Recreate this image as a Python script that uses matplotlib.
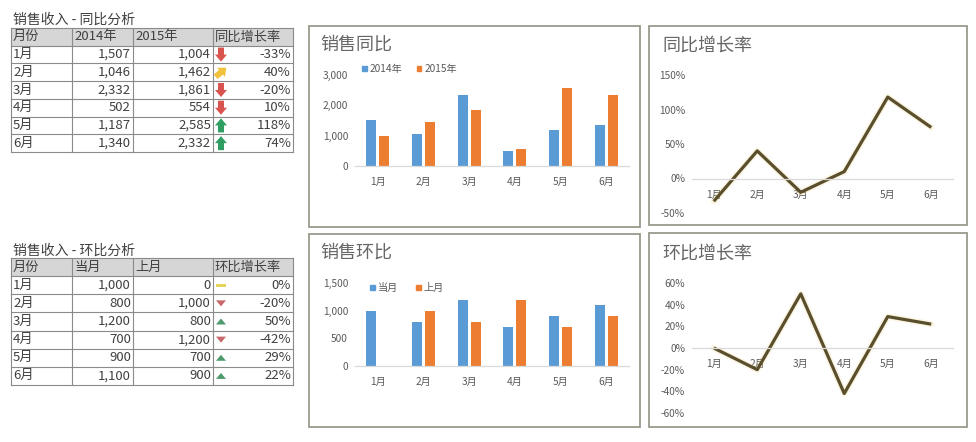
import matplotlib
matplotlib.use("Agg")
import matplotlib.pyplot as plt
from matplotlib.patches import Rectangle, Polygon, Patch
from matplotlib.ticker import FuncFormatter
import numpy as np

plt.rcParams['font.family'] = ['Noto Sans CJK SC', 'DejaVu Sans']

# ── 数据 ─────────────────────────────────────────────
months = ['1月', '2月', '3月', '4月', '5月', '6月']

# 同比
yoy_title = '销售收入 - 同比分析'
yoy_headers = ['月份', '2014年', '2015年', '同比增长率']
sales_2014 = [1507, 1046, 2332, 502, 1187, 1340]
sales_2015 = [1004, 1462, 1861, 554, 2585, 2332]
yoy_rate = [-33, 40, -20, 10, 118, 74]
yoy_icons = ['down', 'side', 'down', 'down', 'up', 'up']

# 环比
mom_title = '销售收入 - 环比分析'
mom_headers = ['月份', '当月', '上月', '环比增长率']
cur_month = [1000, 800, 1200, 700, 900, 1100]
prev_month = [0, 1000, 800, 1200, 700, 900]
mom_rate = [0, -20, 50, -42, 29, 22]

BLUE = '#5b9bd5'
ORANGE = '#ed7d31'
LINE = '#5a4f2c'
TXT = '#595959'
TAB = '#404040'

W, H = 976, 442
fig = plt.figure(figsize=(W / 100, H / 100), dpi=100)
fig.patch.set_facecolor('white')

# 像素坐标的底层画布
bg = fig.add_axes([0, 0, 1, 1])
bg.set_xlim(0, W)
bg.set_ylim(H, 0)
bg.axis('off')


def px_axes(l, r, t, b):
    return fig.add_axes([l / W, 1 - b / H, (r - l) / W, (b - t) / H])


def block_arrow(cx, cy, angle, color, h=14, w=12):
    th = np.deg2rad(angle)
    d = np.array([np.cos(th), -np.sin(th)])
    p = np.array([np.sin(th), np.cos(th)])
    local = [(h / 2, 0), (0, w / 2), (0, w / 4), (-h / 2, w / 4),
             (-h / 2, -w / 4), (0, -w / 4), (0, -w / 2)]
    pts = [np.array([cx, cy]) + a * d + c * p for a, c in local]
    bg.add_patch(Polygon(pts, closed=True, color=color, lw=0))


def tri_icon(cx, cy, kind):
    if kind == 'up':
        pts = [(cx - 5, cy + 3), (cx + 5, cy + 3), (cx, cy - 3)]
        bg.add_patch(Polygon(pts, closed=True, color='#4e9a6e', lw=0))
    elif kind == 'down':
        pts = [(cx - 5, cy - 3), (cx + 5, cy - 3), (cx, cy + 3)]
        bg.add_patch(Polygon(pts, closed=True, color='#c8686a', lw=0))
    else:
        bg.add_patch(Rectangle((cx - 5, cy - 1.5), 10, 3, color='#e6d35a', lw=0))


def draw_table(title, title_y, top, bottom, headers, c1, c2, rates, icon_fn):
    cols = [11, 72, 133, 213, 293]
    n = len(c1) + 1
    rh = (bottom - top) / n
    bg.text(13, title_y, title, fontsize=10, color=TAB, va='center')
    bg.add_patch(Rectangle((cols[0], top), cols[-1] - cols[0], rh,
                           facecolor='#d6d6d6', edgecolor='none'))
    for i in range(n + 1):
        bg.plot([cols[0], cols[-1]], [top + i * rh] * 2, color='#8a8a8a', lw=0.8)
    for xc in cols:
        bg.plot([xc, xc], [top, bottom], color='#8a8a8a', lw=0.8)
    for j, htxt in enumerate(headers):
        bg.text(cols[j] + 2, top + rh / 2, htxt, fontsize=9.5,
                color=TAB, va='center', ha='left')
    for i in range(len(c1)):
        y = top + (i + 1.5) * rh
        bg.text(cols[0] + 2, y, months[i], fontsize=9.5, color=TAB, va='center')
        bg.text(cols[2] - 2, y, f'{c1[i]:,}', fontsize=9.5, color=TAB,
                va='center', ha='right')
        bg.text(cols[3] - 2, y, f'{c2[i]:,}', fontsize=9.5, color=TAB,
                va='center', ha='right')
        bg.text(cols[4] - 2, y, f'{rates[i]}%', fontsize=9.5, color=TAB,
                va='center', ha='right')
        icon_fn(i, 221, y)


arrow_style = {'down': (-90, '#d9534f'), 'side': (40, '#f2c23c'), 'up': (90, '#2f9e62')}


def yoy_icon(i, xp, y):
    ang, col = arrow_style[yoy_icons[i]]
    block_arrow(xp, y, ang, col)


def mom_icon(i, xp, y):
    r = mom_rate[i]
    tri_icon(xp, y, 'up' if r > 0 else ('down' if r < 0 else 'flat'))


draw_table(yoy_title, 20, 28, 152, yoy_headers, sales_2014, sales_2015, yoy_rate, yoy_icon)
draw_table(mom_title, 251, 258, 385, mom_headers, cur_month, prev_month, mom_rate, mom_icon)

# 图表外框与标题
boxes = [(309, 640, 26, 227), (649, 967, 26, 225), (309, 640, 234, 427), (649, 967, 233, 427)]
for l, r, t, b in boxes:
    bg.add_patch(Rectangle((l, t), r - l, b - t, facecolor='white',
                           edgecolor='#9a9a8c', lw=1.3))
for (xt, yt), s in zip([(320, 45), (662, 46), (320, 253), (662, 254)],
                       ['销售同比', '同比增长率', '销售环比', '环比增长率']):
    bg.text(xt, yt, s, fontsize=13, color='#666666', va='center')


def style_axes(ax):
    for s in ['top', 'right', 'left']:
        ax.spines[s].set_visible(False)
    ax.spines['bottom'].set_color('#d9d9d9')
    ax.spines['bottom'].set_linewidth(0.9)
    ax.tick_params(length=0, labelsize=7.3, labelcolor=TXT)
    ax.tick_params(axis='x', pad=8)
    ax.tick_params(axis='y', pad=5)
    ax.set_facecolor('none')


x = np.arange(len(months))
bw, off = 0.22, 0.145


def bar_chart(box, a, b, la, lb, ymax, step, leg_x, leg_y, colsp):
    ax = px_axes(*box)
    ax.bar(x - off, a, bw, color=BLUE)
    ax.bar(x + off, b, bw, color=ORANGE)
    ax.set_xlim(-0.5, len(months) - 0.5)
    ax.set_ylim(0, ymax)
    ax.set_yticks(np.arange(0, ymax + 1, step))
    ax.yaxis.set_major_formatter(FuncFormatter(lambda v, p: f'{v:,.0f}'))
    ax.set_xticks(x)
    ax.set_xticklabels(months)
    style_axes(ax)
    handles = [Patch(color=BLUE, label=la), Patch(color=ORANGE, label=lb)]
    ax.legend(handles=handles, loc='center left', ncol=2, frameon=False,
              bbox_to_anchor=(leg_x / W, 1 - leg_y / H), bbox_transform=fig.transFigure,
              fontsize=7.3, labelcolor=TXT, handlelength=0.45, handleheight=0.45,
              handletextpad=0.3, columnspacing=colsp, borderpad=0, borderaxespad=0)
    return ax


bar_chart((355, 629, 75, 166), sales_2014, sales_2015, '2014年', '2015年',
          3000, 1000, 362, 69, 1.4)
bar_chart((355, 629, 283, 366), cur_month, prev_month, '当月', '上月',
          1500, 500, 370, 288, 1.8)


def line_chart(box, vals, lo, hi, step):
    ax = px_axes(*box)
    ax.plot(x, vals, color='#f3d58c', lw=4.5, alpha=0.25, solid_capstyle='round')
    ax.plot(x, vals, color=LINE, lw=2.3, solid_capstyle='butt')
    ax.set_xlim(-0.5, len(months) - 0.5)
    ax.set_ylim(lo, hi)
    ax.set_yticks(np.arange(lo, hi + 1, step))
    ax.yaxis.set_major_formatter(FuncFormatter(lambda v, p: f'{v:.0f}%'))
    ax.set_xticks(x)
    ax.set_xticklabels(months)
    style_axes(ax)
    ax.spines['bottom'].set_position(('data', 0))
    return ax


line_chart((692, 953, 75, 213), yoy_rate, -50, 150, 50)
line_chart((692, 953, 283, 413), mom_rate, -60, 60, 20)

fig.savefig('out.png', dpi=100)
